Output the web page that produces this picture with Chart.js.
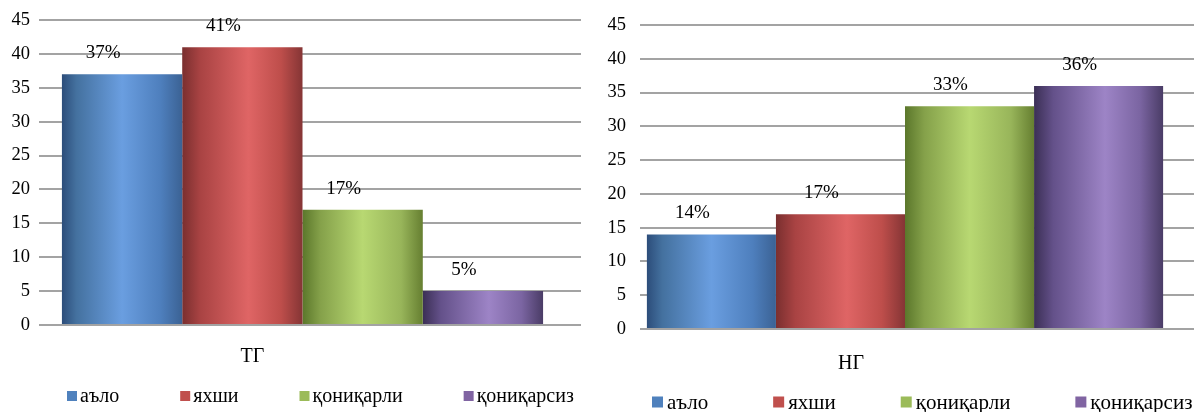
<!DOCTYPE html>
<html>
<head>
<meta charset="utf-8">
<script src="https://cdn.jsdelivr.net/npm/chart.js@4.4.1/dist/chart.umd.min.js"></script>
<style>
  html, body { margin: 0; padding: 0; background: #fff; width: 1194px; height: 412px; overflow: hidden; }
  #left  { position: absolute; left: 0;     top: 0; width: 590px; height: 412px; }
  #right { position: absolute; left: 590px; top: 0; width: 604px; height: 412px; }
</style>
</head>
<body>
<div id="left"><canvas id="chartTG" width="590" height="412"></canvas></div>
<div id="right"><canvas id="chartNG" width="604" height="412"></canvas></div>
<script>
// ---- data ----
const seriesNames = ['аъло', 'яхши', 'қониқарли', 'қониқарсиз'];
const groupTG = ['ТГ'];
const groupNG = ['НГ'];
const valuesTG = [37, 41, 17, 5];
const valuesNG = [14, 17, 33, 36];
const yMin = 0;
const yMax = 45;
const yStep = 5;

// ---- look ----
const FONT = '"Liberation Serif", "Times New Roman", serif';
const GRID = '#a3a3a3';
const baseColors = ['#4f81bd', '#c0504d', '#9bbb59', '#8064a2'];
// cylinder-like horizontal shading for each series: [stop, colour]
const shades = [
  [[0, '#2c4d7a'], [0.12, '#44719f'], [0.5, '#6a9ee0'], [0.82, '#4e7fbd'], [1, '#3b6294']],
  [[0, '#7a2f2f'], [0.15, '#a94343'], [0.55, '#df6565'], [0.82, '#be4e4b'], [1, '#853535']],
  [[0, '#5b772b'], [0.15, '#85a14a'], [0.5, '#b8d872'], [0.82, '#98b55a'], [1, '#667f31']],
  [[0, '#3b2f55'], [0.15, '#64518a'], [0.55, '#9d84c6'], [0.82, '#7b65a2'], [1, '#4a3c66']]
];

function makeDatasets(values) {
  return seriesNames.map((name, i) => ({
    label: name,
    data: [values[i]],
    backgroundColor: baseColors[i],
    borderWidth: 0
  }));
}

// paints every bar with its horizontal gradient once bar geometry is known
const shadePlugin = {
  id: 'barShade',
  beforeDatasetsDraw(chart) {
    const ctx = chart.ctx;
    chart.data.datasets.forEach((ds, di) => {
      const meta = chart.getDatasetMeta(di);
      meta.data.forEach(el => {
        const l = el.x - el.width / 2;
        const g = ctx.createLinearGradient(l, 0, l + el.width, 0);
        shades[di].forEach(([s, c]) => g.addColorStop(s, c));
        el.options = Object.assign({}, el.options, { backgroundColor: g });
      });
    });
  }
};

// percentage labels above bars
const valueLabelPlugin = {
  id: 'valueLabels',
  afterDatasetsDraw(chart, args, opts) {
    const ctx = chart.ctx;
    ctx.save();
    ctx.font = opts.font;
    ctx.fillStyle = '#000';
    ctx.textAlign = 'center';
    ctx.textBaseline = 'middle';
    chart.data.datasets.forEach((ds, di) => {
      const meta = chart.getDatasetMeta(di);
      meta.data.forEach((el, j) => {
        ctx.fillText(ds.data[j] + '%', el.x + opts.dx, el.y - opts.dy);
      });
    });
    ctx.restore();
  }
};

// legend row: square swatch + series name, evenly gapped
const legendRowPlugin = {
  id: 'legendRow',
  afterDraw(chart, args, opts) {
    const ctx = chart.ctx;
    ctx.save();
    ctx.font = opts.font;
    ctx.textBaseline = 'middle';
    ctx.textAlign = 'left';
    let x = opts.x;
    chart.data.datasets.forEach((ds, di) => {
      ctx.fillStyle = baseColors[di];
      ctx.fillRect(x, opts.y - opts.box / 2, opts.box, opts.box);
      x += opts.box + opts.textGap;
      ctx.fillStyle = '#000';
      ctx.fillText(ds.label, x, opts.y + 1);
      x += ctx.measureText(ds.label).width + opts.gap;
    });
    ctx.restore();
  }
};

function makeChart(canvasId, labels, values, o) {
  return new Chart(document.getElementById(canvasId), {
    type: 'bar',
    data: { labels: labels, datasets: makeDatasets(values) },
    plugins: [shadePlugin, valueLabelPlugin, legendRowPlugin],
    options: {
      responsive: false,
      animation: false,
      layout: { padding: o.padding },
      datasets: { bar: { categoryPercentage: o.catPct, barPercentage: 1 } },
      plugins: {
        legend: { display: false },
        tooltip: { enabled: false },
        valueLabels: { font: '19px ' + FONT, dx: -19, dy: 21 },
        legendRow: o.legend
      },
      scales: {
        x: {
          grid: { display: false, drawTicks: false },
          border: { display: false },
          ticks: {
            font: { family: FONT, size: 20 },
            color: '#000',
            padding: o.xPad,
            labelOffset: o.labelOffset
          }
        },
        y: {
          min: yMin, max: yMax,
          grid: { color: GRID, lineWidth: 2, drawTicks: false },
          border: { display: false },
          ticks: {
            stepSize: yStep,
            font: { family: FONT, size: 18.5 },
            color: '#000',
            padding: o.yPad
          },
          afterFit(s) { s.width = o.yWidth; }
        },
        // invisible right-hand axis: its tick marks carry the gridlines a bit past the bars
        y2: {
          position: 'right',
          min: yMin, max: yMax,
          grid: {
            drawOnChartArea: true, drawTicks: true,
            color: GRID, lineWidth: 2,
            tickLength: o.ext, tickColor: GRID, tickWidth: 2
          },
          border: { display: false },
          ticks: { stepSize: yStep, display: false },
          afterFit(s) { s.width = o.ext; }
        }
      }
    }
  });
}

makeChart('chartTG', groupTG, valuesTG, {
  padding: { top: 20, bottom: 23, left: 0, right: 9 },
  catPct: 0.913,
  xPad: 20,
  labelOffset: -50,
  yPad: 9,
  yWidth: 39,
  ext: 15,
  legend: { x: 67, y: 396, box: 10, textGap: 3, gap: 61, font: '20px ' + FONT }
});

makeChart('chartNG', groupNG, valuesNG, {
  padding: { top: 25, bottom: 13, left: 0, right: 0 },
  catPct: 0.974,
  xPad: 23,
  labelOffset: -54,
  yPad: 14,
  yWidth: 50,
  ext: 24,
  legend: { x: 652 - 590, y: 402, box: 11, textGap: 4, gap: 65, font: '21px ' + FONT }
});
</script>
</body>
</html>
